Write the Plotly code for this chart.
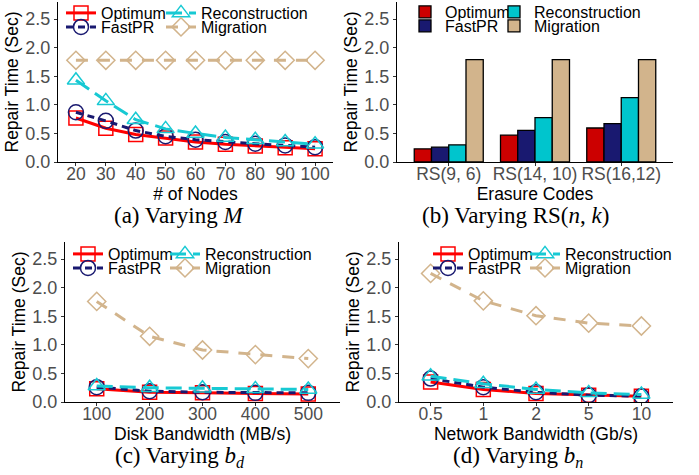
import plotly.graph_objects as go

# ---------------- data ----------------
series = ["Optimum", "FastPR", "Reconstruction", "Migration"]

nodes = [20, 30, 40, 50, 60, 70, 80, 90, 100]
a_optimum = [0.77, 0.59, 0.48, 0.42, 0.35, 0.31, 0.28, 0.25, 0.23]
a_fastpr = [0.87, 0.72, 0.55, 0.45, 0.39, 0.35, 0.32, 0.29, 0.26]
a_recon = [1.43, 1.07, 0.74, 0.58, 0.50, 0.43, 0.39, 0.35, 0.31]
a_migration = [1.78, 1.78, 1.78, 1.78, 1.78, 1.78, 1.78, 1.78, 1.78]

codes = ["RS(9, 6)", "RS(14, 10)", "RS(16,12)"]
b_optimum = [0.23, 0.47, 0.595]
b_fastpr = [0.26, 0.555, 0.67]
b_recon = [0.30, 0.777, 1.127]
b_migration = [1.79, 1.79, 1.79]

disk_bw = ["100", "200", "300", "400", "500"]
c_optimum = [0.23, 0.17, 0.16, 0.15, 0.14]
c_fastpr = [0.26, 0.19, 0.17, 0.16, 0.16]
c_recon = [0.28, 0.25, 0.24, 0.23, 0.22]
c_migration = [1.76, 1.15, 0.91, 0.83, 0.76]

net_bw = ["0.5", "1", "2", "5", "10"]
d_optimum = [0.35, 0.22, 0.15, 0.12, 0.10]
d_fastpr = [0.41, 0.26, 0.17, 0.12, 0.10]
d_recon = [0.45, 0.32, 0.22, 0.16, 0.13]
d_migration = [2.25, 1.77, 1.51, 1.38, 1.33]

y_ticks = [0.0, 0.5, 1.0, 1.5, 2.0, 2.5]

captions = ["(a) Varying <i>M</i>", "(b) Varying RS(<i>n</i>, <i>k</i>)",
            "(c) Varying <i>b<sub>d</sub></i>", "(d) Varying <i>b<sub>n</sub></i>"]
x_titles = ["# of Nodes", "Erasure Codes", "Disk Bandwidth (MB/s)", "Network Bandwidth (Gb/s)"]

# ---------------- styles ----------------
W, H = 699, 475
SANS = "Liberation Sans, Arial, sans-serif"
SERIF = "Liberation Serif, Times New Roman, serif"
line_color = {"Optimum": "#FF0000", "FastPR": "#191970", "Reconstruction": "#17C9D3", "Migration": "#D2B48C"}
bar_color = {"Optimum": "#CC0000", "FastPR": "#191970", "Reconstruction": "#00C5CD", "Migration": "#D2B48C"}
symbol = {"Optimum": "square-open", "FastPR": "circle-open", "Reconstruction": "triangle-up-open", "Migration": "diamond-open"}
msize = {"Optimum": 14, "FastPR": 15, "Reconstruction": 15, "Migration": 14}
dash = {"Optimum": "solid", "FastPR": "7px,5px", "Reconstruction": "16px,7px", "Migration": "12px,10px"}
# legend grid cell (column, row)
cell = {"Optimum": (0, 0), "Reconstruction": (1, 0), "FastPR": (0, 1), "Migration": (1, 1)}

def px_x(p):
    return p / W

def px_y(p):
    return 1 - p / H

# panel geometry in pixels: (x0, x1, ytop, ybottom)
panels = [
    (58, 333, 2, 162),
    (397, 673, 2, 162),
    (65, 340, 242, 402),
    (399, 673, 242, 402),
]
# legend key centres: (col0 x, col1 x, row0 y, row1 y)
legend_pos = [
    (86, 186, 13, 27),
    (430, 519, 12, 26),
    (93, 190, 254, 268),
    (453, 550, 254, 268),
]

line_panels = {
    0: (nodes, {"Optimum": a_optimum, "FastPR": a_fastpr, "Reconstruction": a_recon, "Migration": a_migration}),
    2: (disk_bw, {"Optimum": c_optimum, "FastPR": c_fastpr, "Reconstruction": c_recon, "Migration": c_migration}),
    3: (net_bw, {"Optimum": d_optimum, "FastPR": d_fastpr, "Reconstruction": d_recon, "Migration": d_migration}),
}
bar_data = {"Optimum": b_optimum, "FastPR": b_fastpr, "Reconstruction": b_recon, "Migration": b_migration}

def axis_names(i):
    n = "" if i == 0 else str(i + 1)
    return "x" + n, "y" + n, "xaxis" + n, "yaxis" + n

def legend_name(i, s):
    return "legend" + str(4 * i + series.index(s) + 2)

fig = go.Figure()

for i in range(4):
    xa, ya, _, _ = axis_names(i)
    if i == 1:
        for s in series:
            fig.add_trace(go.Bar(
                x=codes, y=bar_data[s], name=s, xaxis=xa, yaxis=ya,
                marker=dict(color=bar_color[s], line=dict(color="black", width=1.3)),
                legend=legend_name(i, s),
            ))
    else:
        xs, data = line_panels[i]
        for s in series:
            fig.add_trace(go.Scatter(
                x=xs, y=data[s], name=s, xaxis=xa, yaxis=ya, mode="lines+markers",
                line=dict(color=line_color[s], width=3, dash=dash[s]),
                marker=dict(symbol=symbol[s], size=msize[s], color=line_color[s],
                            line=dict(color=line_color[s], width=1.5)),
                legend=legend_name(i, s),
            ))

layout = dict(
    width=W, height=H, margin=dict(l=0, r=0, t=0, b=0, autoexpand=False),
    paper_bgcolor="white", plot_bgcolor="white", showlegend=True,
    barmode="group", bargap=0.2, bargroupgap=0,
    font=dict(family=SANS, color="black"),
)

xranges = [[14, 106], [-0.6, 2.6], [-0.6, 4.6], [-0.6, 4.6]]
for i, (x0, x1, yt, yb) in enumerate(panels):
    xa, ya, xk, yk = axis_names(i)
    xaxis = dict(
        domain=[px_x(x0), px_x(x1)], anchor=ya, range=xranges[i],
        showline=True, linecolor="black", linewidth=1.2, mirror=False,
        showgrid=False, zeroline=False, ticks="outside", ticklen=3, tickcolor="#333333",
        ticklabelstandoff=-7,
        tickfont=dict(size=17.5, color="#4D4D4D", family=SANS),
        title=dict(text=x_titles[i], font=dict(size=17.5, color="black", family=SANS), standoff=0),
    )
    if i == 0:
        xaxis.update(tickvals=nodes)
    else:
        xaxis.update(type="category")
    yaxis = dict(
        domain=[px_y(yb), px_y(yt)], anchor=xa, range=[0, 2.8],
        showline=True, linecolor="black", linewidth=1.2,
        showgrid=False, zeroline=False, ticks="outside", ticklen=3, tickcolor="#333333",
        tickvals=y_ticks, tickformat=".1f",
        tickfont=dict(size=18, color="#4D4D4D", family=SANS),
        title=dict(text="Repair Time (Sec)", font=dict(size=17.5, color="black", family=SANS), standoff=2),
    )
    layout[xk] = xaxis
    layout[yk] = yaxis

    c0, c1, r0, r1 = legend_pos[i]
    for s in series:
        col, row = cell[s]
        kx = [c0, c1][col]
        ky = [r0, r1][row]
        layout[legend_name(i, s)] = dict(
            orientation="h", x=px_x(kx - 25), y=px_y(ky), xanchor="left", yanchor="middle",
            bgcolor="rgba(0,0,0,0)", borderwidth=0,
            font=dict(size=16, color="black", family=SANS),
            itemsizing="trace",
        )

fig.update_layout(**layout)

cap_pos = [(179, 215), (515, 215), (180, 457), (518, 457)]
for (cx, cy), txt in zip(cap_pos, captions):
    fig.add_annotation(text=txt, x=px_x(cx), y=px_y(cy), xref="paper", yref="paper",
                       showarrow=False, xanchor="center", yanchor="middle",
                       font=dict(family=SERIF, size=23, color="black"))

fig.write_html("out.html", config={"displayModeBar": False},
               post_script="document.body.style.margin='0px';document.body.style.padding='0px';")
